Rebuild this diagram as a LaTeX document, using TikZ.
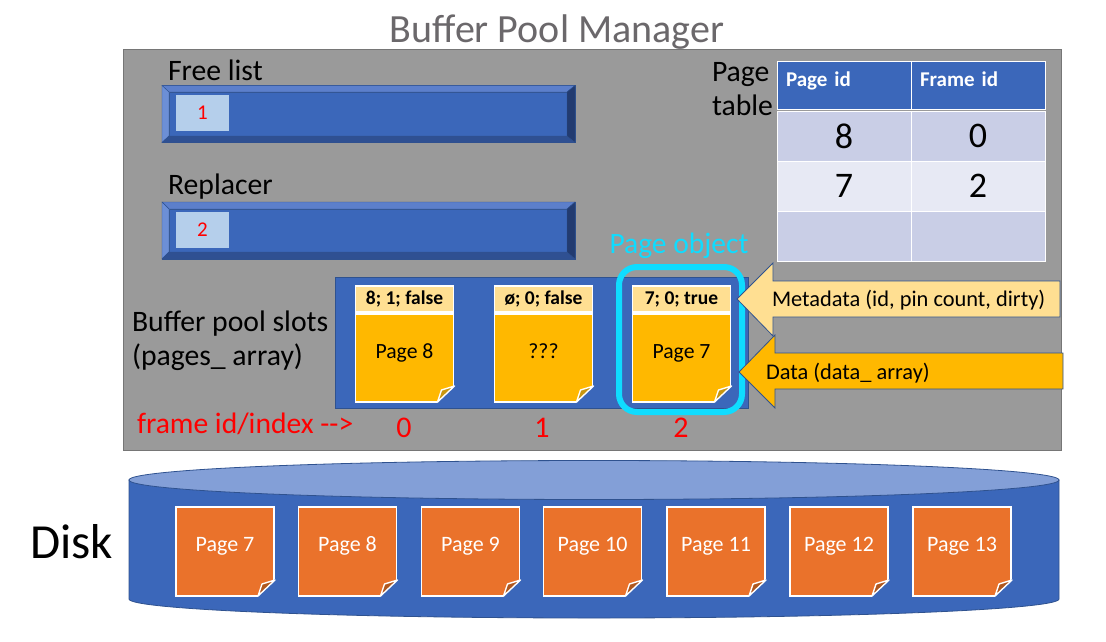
\documentclass[tikz,border=0pt]{standalone}
\usepackage{fontspec}
\setmainfont{Carlito}
\usepackage{xcolor}
\usetikzlibrary{shapes.geometric, arrows.meta, positioning}
\definecolor{panelgray}{HTML}{9A9A9A}
\definecolor{edgegray}{HTML}{767676}
\definecolor{titlegray}{HTML}{6B686B}
\definecolor{mainblue}{HTML}{3B67BA}
\definecolor{edgeblue}{HTML}{2F528F}
\definecolor{bevtop}{HTML}{5C7FCB}
\definecolor{bevleft}{HTML}{6C8FD6}
\definecolor{bevbot}{HTML}{2F5092}
\definecolor{bevright}{HTML}{223B70}
\definecolor{slotpale}{HTML}{B5CFEB}
\definecolor{pageamber}{HTML}{FFB800}
\definecolor{metayellow}{HTML}{FFDF92}
\definecolor{foldamber}{HTML}{C8960F}
\definecolor{pageorange}{HTML}{EA722B}
\definecolor{foldorange}{HTML}{B0581F}
\definecolor{objcyan}{HTML}{0FDCFF}
\definecolor{rowdark}{HTML}{C9CEE6}
\definecolor{rowlight}{HTML}{E7E9F4}
\definecolor{disktopblue}{HTML}{839FD7}

\begin{document}
\begin{tikzpicture}[
  x=1pt, y=-1pt,
  node distance=0pt,
  plain/.style={inner sep=0pt, outer sep=0pt},
  lbl/.style={plain, align=left, anchor=west, font=\fontsize{29.7}{34}\selectfont},
  redlbl/.style={plain, text=red, font=\fontsize{30}{34}\selectfont},
  bar/.style={plain, draw=edgeblue, line width=1pt, fill=mainblue, minimum width=#1},
  slotbox/.style={plain, fill=slotpale, text=red, minimum width=53pt, minimum height=36pt, font=\fontsize{21}{24}\selectfont},
  hdr/.style={plain, draw=white, line width=1.6pt, fill=metayellow, minimum width=98pt, minimum height=26pt, font=\bfseries\fontsize{19.5}{22}\selectfont},
  amberpage/.style={plain, draw=white, line width=1.6pt, fill=pageamber, minimum width=98pt, minimum height=88pt, text height=11pt, text depth=10pt, font=\fontsize{21.7}{24}\selectfont},
  orangepage/.style={plain, draw=white, line width=1.6pt, fill=pageorange, text=white, minimum width=98pt, minimum height=89pt, text height=11pt, text depth=11pt, font=\fontsize{22}{24}\selectfont},
  th/.style={plain, draw=white, line width=1pt, fill=mainblue, text=white, minimum width=134pt, minimum height=48pt, text width=116pt, align=left, text height=12pt, text depth=10pt, font=\bfseries\fontsize{21}{24}\selectfont},
  td/.style={plain, draw=white, line width=1pt, fill=#1, minimum width=134pt, minimum height=50pt, font=\fontsize{36}{40}\selectfont},
  callout/.style={draw=edgeblue, line width=0.8pt, fill=#1},
  calltext/.style={plain, anchor=west, font=\fontsize{22.4}{26}\selectfont}
]
\useasboundingbox (0,0) rectangle (1106,641);

\node[plain, text=titlegray, font=\fontsize{40}{46}\selectfont] (title) at (557,32) {Buffer Pool Manager};
\node[plain, draw=edgegray, line width=1pt, fill=panelgray, minimum width=938pt, minimum height=401pt] (panel) at (592,249.5) {};

% free list and replacer
\node[lbl] (freelbl) at (168,70) {Free list};
\node[bar=413pt, minimum height=57pt] (freebar) at (368.5,114) {};
\node[plain, draw=edgeblue, fill=mainblue, minimum width=398pt, minimum height=44pt] (freeface) at (368,114) {};
\node[slotbox] (freeslot) at (202.5,113) {1};
\node[lbl] (repllbl) at (168,187) {Replacer};
\node[bar=413pt, minimum height=57pt] (replbar) at (368.5,230.5) {};
\node[plain, draw=edgeblue, fill=mainblue, minimum width=398pt, minimum height=43pt] (replface) at (368,230.5) {};
\node[slotbox] (replslot) at (202.5,230) {2};
\foreach \b/\f in {freebar/freeface, replbar/replface} {
  \draw[edgeblue, fill=bevtop] (\b.north west) -- (\b.north east) -- (\f.north east) -- (\f.north west) -- cycle;
  \draw[edgeblue, fill=bevleft] (\b.north west) -- (\f.north west) -- (\f.south west) -- (\b.south west) -- cycle;
  \draw[edgeblue, fill=bevbot] (\b.south west) -- (\f.south west) -- (\f.south east) -- (\b.south east) -- cycle;
  \draw[edgeblue, fill=bevright] (\b.north east) -- (\f.north east) -- (\f.south east) -- (\b.south east) -- cycle;
}

% page table
\node[lbl] (ptlbl) at (712,89.5) {Page\\table};
\node[th] (thpage) at (844,85) {Page id};
\node[th, right=of thpage] (thframe) {Frame id};
\node[td=rowdark] (cell80) at (844,136) {8};
\node[td=rowdark, right=of cell80] (cell81) {0};
\node[td=rowlight, below=of cell80] (cell70) {7};
\node[td=rowlight, right=of cell70] (cell71) {2};
\node[td=rowdark, below=of cell70] (cell00) {};
\node[td=rowdark, right=of cell00] (cell01) {};

% buffer pool slots
\node[lbl] (poollbl) at (132,341) {Buffer pool slots\\(pages\_ array)};
\node[plain, draw=edgeblue, line width=0.8pt, fill=mainblue, minimum width=413pt, minimum height=131pt] (slots) at (541.5,342.5) {};
\node[hdr] (hdra) at (404.5,299) {8; 1; false};
\node[amberpage] (pga) at (404.5,358) {Page 8};
\node[hdr] (hdrb) at (543.5,299) {ø; 0; false};
\node[amberpage] (pgb) at (543.5,358) {???};
\node[hdr] (hdrc) at (681.5,299) {7; 0; true};
\node[amberpage] (pgc) at (681.5,358) {Page 7};
\node[plain, draw=objcyan, line width=6pt, rounded corners=18pt, minimum width=123pt, minimum height=145pt] (pageobj) at (680.5,339.5) {};
\node[plain, text=objcyan, font=\fontsize{29.5}{34}\selectfont] (objlbl) at (679,246) {Page object};

\node[redlbl, anchor=west, font=\fontsize{29.6}{34}\selectfont] (idxlbl) at (137,424) {frame id/index {-}{-}>};
\node[redlbl] (idxa) at (404,428) {0};
\node[redlbl] (idxb) at (542,428) {1};
\node[redlbl] (idxc) at (681,428) {2};

% callouts
\draw[callout=metayellow] (737,299) -- (773,263) -- (773,281) -- (1060,281) -- (1060,317) -- (773,317) -- (773,336) -- cycle;
\node[calltext] (metalbl) at (772,300) {Metadata (id, pin count, dirty)};
\draw[callout=pageamber] (739,372) -- (775,335) -- (775,353) -- (1063,353) -- (1063,389) -- (775,389) -- (775,408) -- cycle;
\node[calltext] (datalbl) at (766,373) {Data (data\_ array)};

% disk
\draw[edgeblue, line width=0.8pt, fill=mainblue] (129,480) -- (129,599) arc[x radius=465, y radius=19, start angle=180, end angle=0] -- (1059,480) -- cycle;
\node[plain, shape=ellipse, draw=edgeblue, line width=0.8pt, fill=disktopblue, minimum width=930pt, minimum height=39pt] (disktop) at (594,480) {};
\node[lbl, font=\fontsize{49}{54}\selectfont] (disklbl) at (30,542) {Disk};
\node[orangepage] (dpa) at (225,551.5) {Page 7};
\node[orangepage] (dpb) at (347.5,551.5) {Page 8};
\node[orangepage] (dpc) at (470.5,551.5) {Page 9};
\node[orangepage] (dpd) at (592.5,551.5) {Page 10};
\node[orangepage] (dpe) at (716,551.5) {Page 11};
\node[orangepage] (dpf) at (839,551.5) {Page 12};
\node[orangepage] (dpg) at (962,551.5) {Page 13};

% turned corners
\foreach \p/\k in {pga/foldamber, pgb/foldamber, pgc/foldamber, dpa/foldorange, dpb/foldorange, dpc/foldorange, dpd/foldorange, dpe/foldorange, dpf/foldorange, dpg/foldorange} {
  \fill[mainblue] ([xshift=-16pt]\p.south east) -- ([shift={(2pt,18pt)}]\p.south east) -- ([shift={(2pt,-2pt)}]\p.south east) -- ([shift={(-16pt,-2pt)}]\p.south east) -- cycle;
  \draw[white, line width=1.4pt, fill=\k, line join=round] ([xshift=-16pt]\p.south east) -- ([shift={(-12pt,12pt)}]\p.south east) -- ([shift={(1pt,16pt)}]\p.south east) -- cycle;
}
\end{tikzpicture}
\end{document}
